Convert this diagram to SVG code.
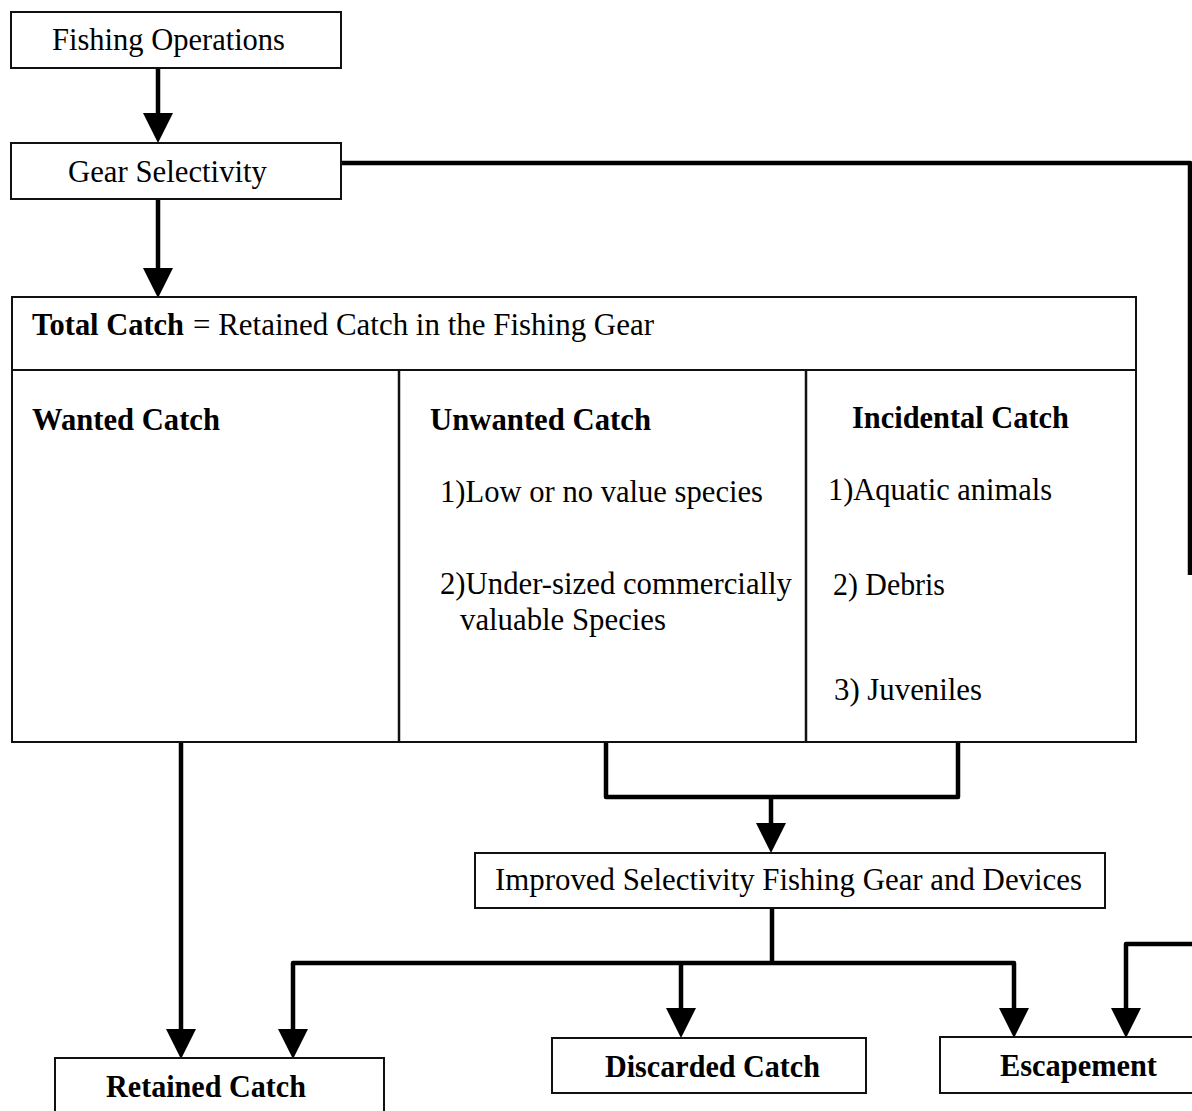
<svg xmlns="http://www.w3.org/2000/svg" width="1192" height="1111" viewBox="0 0 1192 1111">
<style>
.box{fill:#fff;stroke:#111;stroke-width:2}
.wire{fill:none;stroke:#000;stroke-width:4.5;stroke-linejoin:round}
.t{font-family:"Liberation Serif","Times New Roman",serif;font-size:31px;fill:#000}
.b{font-weight:bold}
</style>
<defs>
<marker id="ah" viewBox="0 0 30 30" refX="19" refY="15" markerWidth="30" markerHeight="30" markerUnits="userSpaceOnUse" orient="auto">
<path d="M0,0 L30,15 L0,30 z" fill="#000"/>
</marker>
</defs>
<rect width="1192" height="1111" fill="#fff"/>
<g id="connectors">
<path class="wire" d="M158,68 V132" marker-end="url(#ah)"/>
<path class="wire" d="M158,199 V287" marker-end="url(#ah)"/>
<path class="wire" d="M342,163 H1190 V575"/>
<path class="wire" d="M181,742 V1048" marker-end="url(#ah)"/>
<path class="wire" d="M606,742 V797 H958 V742"/>
<path class="wire" d="M771,797 V842" marker-end="url(#ah)"/>
<path class="wire" d="M772,908 V963"/>
<path class="wire" d="M772,963 H293 V1048" marker-end="url(#ah)"/>
<path class="wire" d="M772,963 H1014 V1027" marker-end="url(#ah)"/>
<path class="wire" d="M681,963 V1027" marker-end="url(#ah)"/>
<path class="wire" d="M1192,944 H1126 V1027" marker-end="url(#ah)"/>
</g>
<g id="fishing-operations">
<rect class="box" x="11" y="12" width="330" height="56"/>
<text class="t" x="52" y="50" textLength="233" lengthAdjust="spacingAndGlyphs">Fishing Operations</text>
</g>
<g id="gear-selectivity">
<rect class="box" x="11" y="143" width="330" height="56"/>
<text class="t" x="68" y="182" textLength="199" lengthAdjust="spacingAndGlyphs">Gear Selectivity</text>
</g>
<g id="total-catch">
<rect class="box" x="12" y="297" width="1124" height="445"/>
<line x1="12" y1="370" x2="1136" y2="370" stroke="#111" stroke-width="2"/>
<line x1="399" y1="370" x2="399" y2="742" stroke="#111" stroke-width="2.5"/>
<line x1="806" y1="370" x2="806" y2="742" stroke="#111" stroke-width="2.5"/>
<text class="t b" x="32" y="335" textLength="152" lengthAdjust="spacingAndGlyphs">Total Catch</text>
<text class="t" x="193" y="335" textLength="461" lengthAdjust="spacingAndGlyphs">= Retained Catch in the Fishing Gear</text>
</g>
<g id="wanted-catch">
<text class="t b" x="32" y="430" textLength="188" lengthAdjust="spacingAndGlyphs">Wanted Catch</text>
</g>
<g id="unwanted-catch">
<text class="t b" x="430" y="430" textLength="221" lengthAdjust="spacingAndGlyphs">Unwanted Catch</text>
<text class="t" x="440" y="502" textLength="323" lengthAdjust="spacingAndGlyphs">1)Low or no value species</text>
<text class="t" x="440" y="594" textLength="352" lengthAdjust="spacingAndGlyphs">2)Under-sized commercially</text>
<text class="t" x="460" y="630" textLength="206" lengthAdjust="spacingAndGlyphs">valuable Species</text>
</g>
<g id="incidental-catch">
<text class="t b" x="852" y="428" textLength="217" lengthAdjust="spacingAndGlyphs">Incidental Catch</text>
<text class="t" x="828" y="500" textLength="224" lengthAdjust="spacingAndGlyphs">1)Aquatic animals</text>
<text class="t" x="833" y="595" textLength="112" lengthAdjust="spacingAndGlyphs">2) Debris</text>
<text class="t" x="834" y="700" textLength="148" lengthAdjust="spacingAndGlyphs">3) Juveniles</text>
</g>
<g id="improved-selectivity">
<rect class="box" x="475" y="853" width="630" height="55"/>
<text class="t" x="495" y="890" textLength="587" lengthAdjust="spacingAndGlyphs">Improved Selectivity Fishing Gear and Devices</text>
</g>
<g id="retained-catch">
<rect class="box" x="55" y="1058" width="329" height="70"/>
<text class="t b" x="106" y="1097" textLength="200" lengthAdjust="spacingAndGlyphs">Retained Catch</text>
</g>
<g id="discarded-catch">
<rect class="box" x="552" y="1038" width="314" height="55"/>
<text class="t b" x="605" y="1077" textLength="215" lengthAdjust="spacingAndGlyphs">Discarded Catch</text>
</g>
<g id="escapement">
<rect class="box" x="940" y="1037" width="270" height="56"/>
<text class="t b" x="1000" y="1076" textLength="157" lengthAdjust="spacingAndGlyphs">Escapement</text>
</g>
</svg>
